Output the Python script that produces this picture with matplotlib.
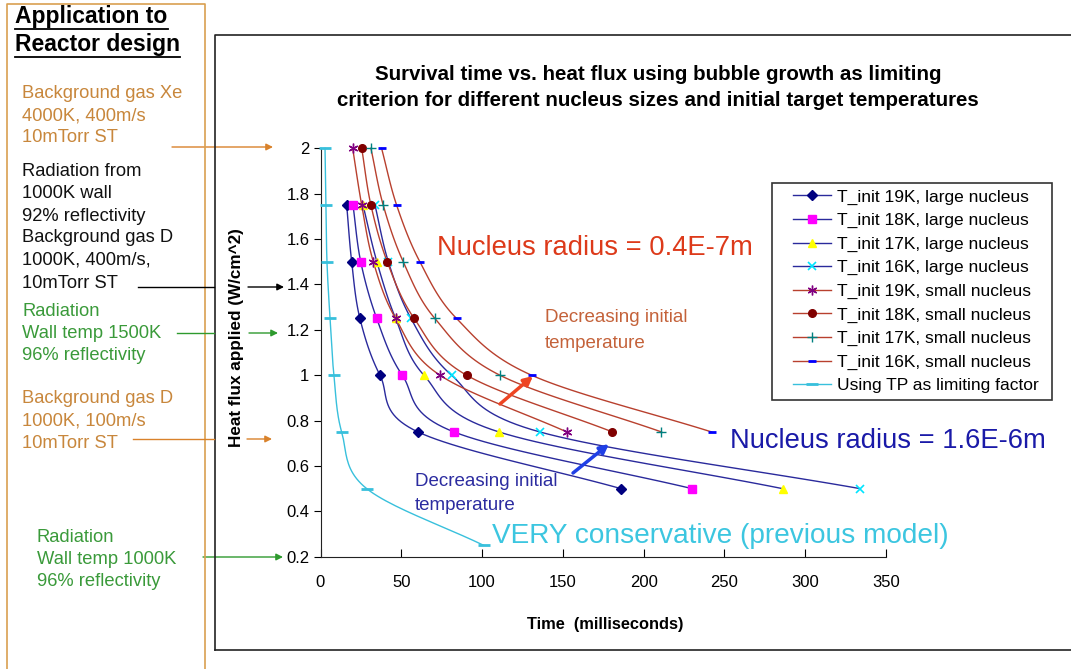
import numpy as np
import matplotlib.pyplot as plt
from matplotlib.lines import Line2D
from matplotlib.patches import FancyArrowPatch, Rectangle

W, H = 1071, 669
plt.rcParams['font.family'] = ['Liberation Sans', 'DejaVu Sans']

# heat flux levels (W/cm^2)
flux_large = [1.75, 1.5, 1.25, 1.0, 0.75, 0.5]
flux_small = [2.0, 1.75, 1.5, 1.25, 1.0, 0.75]
flux_tp = [2.0, 1.75, 1.5, 1.25, 1.0, 0.75, 0.5, 0.25]

# survival times (ms)
t19_large = [16.2, 19.3, 24.4, 36.8, 60.3, 186]
t18_large = [20.1, 24.9, 34.8, 50.6, 82.6, 230]
t17_large = [26.3, 34.9, 46.5, 64, 110.4, 286]
t16_large = [33.7, 42, 56, 81.1, 135.7, 334]
t19_small = [19.9, 25.5, 32.7, 46.5, 73.9, 152.4]
t18_small = [25.5, 31.2, 41.3, 58, 90.4, 180.7]
t17_small = [31.2, 38.8, 51.2, 70.8, 111, 211]
t16_small = [37.8, 47.1, 61.5, 84.2, 130.6, 242]
t_tp = [2.8, 3.4, 4, 5.9, 8.3, 13.1, 28.6, 101]

labels = ['T_init 19K, large nucleus', 'T_init 18K, large nucleus',
          'T_init 17K, large nucleus', 'T_init 16K, large nucleus',
          'T_init 19K, small nucleus', 'T_init 18K, small nucleus',
          'T_init 17K, small nucleus', 'T_init 16K, small nucleus',
          'Using TP as limiting factor']

x_ticks = [0, 50, 100, 150, 200, 250, 300, 350]
y_ticks = [0.2, 0.4, 0.6, 0.8, 1.0, 1.2, 1.4, 1.6, 1.8, 2.0]
y_ticklabels = ['0.2', '0.4', '0.6', '0.8', '1', '1.2', '1.4', '1.6', '1.8', '2']


def f(x, y):
    return (x / W, 1 - y / H)


def smooth(t, q, n=24):
    # bezier smoothing through the points, done in screen-like units
    p = np.column_stack([np.asarray(t) / 350 * 565, np.asarray(q) / 1.8 * 408])
    p = np.vstack([2 * p[0] - p[1], p, 2 * p[-1] - p[-2]])
    s = np.linspace(0, 1, n)[:, None]
    out = []
    for i in range(1, len(p) - 2):
        p0, p1, p2, p3 = p[i - 1], p[i], p[i + 1], p[i + 2]
        b1 = p1 + (p2 - p0) / 6
        b2 = p2 - (p3 - p1) / 6
        seg = (1 - s) ** 3 * p1 + 3 * (1 - s) ** 2 * s * b1 + 3 * (1 - s) * s ** 2 * b2 + s ** 3 * p2
        out.append(seg if i == 1 else seg[1:])
    c = np.vstack(out)
    return c[:, 0] * 350 / 565, c[:, 1] * 1.8 / 408


blue_line = '#2a2a9c'
red_line = '#b8402e'
cyan_line = '#38c0dc'

series = [
    (t19_large, flux_large, 'D', '#000080', 5, 1, blue_line),
    (t18_large, flux_large, 's', '#ff00ff', 6, 1, blue_line),
    (t17_large, flux_large, '^', '#ffff00', 6, 1, blue_line),
    (t16_large, flux_large, 'x', '#00e5ff', 6, 1.2, blue_line),
    (t19_small, flux_small, (6, 2, 0), '#800080', 7, 1, red_line),
    (t18_small, flux_small, 'o', '#800000', 5.5, 1, red_line),
    (t17_small, flux_small, '+', '#008080', 7, 1, red_line),
    (t16_small, flux_small, '_', '#0000ff', 6, 2, red_line),
    (t_tp, flux_tp, '_', cyan_line, 8, 2, cyan_line),
]

fig = plt.figure(figsize=(W / 100, H / 100), dpi=100)
ax = fig.add_axes([320.5 / W, 1 - 556.7 / H, (886 - 320.5) / W, (556.7 - 148.3) / H])

handles = []
for (t, q, mk, mc, ms, mew, lc), lab in zip(series, labels):
    sx, sy = smooth(t, q)
    ax.plot(sx, sy, color=lc, lw=1, clip_on=False, zorder=2)
    ax.plot(t, q, ls='none', marker=mk, ms=ms, mfc=mc, mec=mc, mew=mew,
            clip_on=False, zorder=3)
    handles.append(Line2D([], [], color=lc, lw=1, marker=mk, ms=ms, mfc=mc,
                          mec=mc, mew=mew))

ax.set_xlim(0, 350)
ax.set_ylim(0.2, 2.0)
ax.set_xticks(x_ticks)
ax.set_yticks(y_ticks)
ax.set_yticklabels(y_ticklabels)
for sp in ['top', 'right']:
    ax.spines[sp].set_visible(False)
for sp in ['left', 'bottom']:
    ax.spines[sp].set_color('#222222')
ax.tick_params(axis='x', direction='in', length=6, pad=13, labelsize=12)
ax.tick_params(axis='y', direction='out', length=5, pad=3, labelsize=12)
ax.set_facecolor('none')

# legend, with its frame drawn separately
fig.legend(handles, labels, loc='upper left', bbox_to_anchor=f(788, 184),
           fontsize=12.5, frameon=False, handlelength=2.2, labelspacing=0.48,
           borderpad=0.3, handletextpad=0.3, borderaxespad=0)
fig.add_artist(Rectangle(f(772, 400), 280 / W, 217 / H, transform=fig.transFigure,
                         fill=False, edgecolor='#333333', lw=1.2))

# axis titles and chart title
fig.text(*f(237, 338), 'Heat flux applied (W/cm^2)', rotation=90,
         ha='center', va='center', fontsize=12.3, fontweight='bold')
fig.text(*f(605, 624), 'Time  (milliseconds)', ha='center', va='center',
         fontsize=11.8, fontweight='bold')
fig.text(*f(658, 75), 'Survival time vs. heat flux using bubble growth as limiting',
         ha='center', va='center', fontsize=14.8, fontweight='bold')
fig.text(*f(658, 101), 'criterion for different nucleus sizes and initial target temperatures',
         ha='center', va='center', fontsize=14.8, fontweight='bold')

# in-plot annotations
fig.text(*f(437, 248), 'Nucleus radius = 0.4E-7m', ha='left', va='center',
         fontsize=19.7, color='#dd3a1a')
fig.text(*f(545, 318), 'Decreasing initial', ha='left', va='center',
         fontsize=13.5, color='#c4623a')
fig.text(*f(545, 344), 'temperature', ha='left', va='center',
         fontsize=13.5, color='#c4623a')
fig.text(*f(730, 441), 'Nucleus radius = 1.6E-6m', ha='left', va='center',
         fontsize=19.7, color='#1a1aa8')
fig.text(*f(415, 482), 'Decreasing initial', ha='left', va='center',
         fontsize=13.5, color='#2c2ca0')
fig.text(*f(415, 505), 'temperature', ha='left', va='center',
         fontsize=13.5, color='#2c2ca0')
fig.text(*f(492, 536), 'VERY conservative (previous model)', ha='left',
         va='center', fontsize=20.2, color='#3cc6e0')

# frames
fig.add_artist(Line2D([215 / W, 215 / W, 1], [1 - 650 / H, 1 - 35 / H, 1 - 35 / H],
                      transform=fig.transFigure, color='#222222', lw=1.2))
fig.add_artist(Line2D([215 / W, 1], [1 - 650 / H, 1 - 650 / H],
                      transform=fig.transFigure, color='#222222', lw=1.2))
fig.add_artist(Line2D([7 / W, 7 / W, 205 / W, 205 / W], [0, 1 - 4 / H, 1 - 4 / H, 0],
                      transform=fig.transFigure, color='#d9a050', lw=1.2))

# left panel: reactor design cases
fig.text(*f(15, 17), 'Application to', ha='left', va='center', fontsize=16.5,
         fontweight='bold')
fig.text(*f(15, 45), 'Reactor design', ha='left', va='center', fontsize=16.5,
         fontweight='bold')
for x0, x1, y in [(15, 168, 29), (15, 180, 57)]:
    fig.add_artist(Line2D([x0 / W, x1 / W], [1 - y / H, 1 - y / H],
                          transform=fig.transFigure, color='black', lw=1.3))

orange = '#c8873c'
green = '#3a9a3a'
blocks = [
    (22, [94, 116, 138], ['Background gas Xe', '4000K, 400m/s', '10mTorr ST'], orange),
    (22, [172, 194, 216, 238, 260, 283],
     ['Radiation from', '1000K wall', '92% reflectivity', 'Background gas D',
      '1000K, 400m/s,', '10mTorr ST'], '#111111'),
    (22, [312, 334, 356], ['Radiation', 'Wall temp 1500K', '96% reflectivity'], green),
    (22, [399, 421, 443], ['Background gas D', '1000K, 100m/s', '10mTorr ST'], orange),
    (37, [537, 559, 581], ['Radiation', 'Wall temp 1000K', '96% reflectivity'], green),
]
for x, ys, lines, col in blocks:
    for y, s in zip(ys, lines):
        fig.text(*f(x, y), s, ha='left', va='center', fontsize=13.2, color=col)


def arrow(x0, y0, x1, y1, color, lw=1.0, scale=10):
    fig.add_artist(FancyArrowPatch(f(x0, y0), f(x1, y1), transform=fig.transFigure,
                                   arrowstyle='-|>', mutation_scale=scale,
                                   color=color, lw=lw, shrinkA=0, shrinkB=0))


def segment(x0, x1, y, color):
    fig.add_artist(Line2D([x0 / W, x1 / W], [1 - y / H, 1 - y / H],
                          transform=fig.transFigure, color=color, lw=1.0))


arrow(172, 147, 273, 147, '#d9822b')
segment(138, 214, 287, 'black')
arrow(248, 287, 284, 287, 'black')
segment(177, 214, 333, '#2e9a2e')
arrow(249, 333, 278, 333, '#2e9a2e')
segment(133, 214, 439, '#d9822b')
arrow(247, 439, 272, 439, '#d9822b')
arrow(203, 557, 283, 557, '#2e9a2e')

# trend arrows
arrow(500, 404, 533, 376, '#ee4422', lw=2.5, scale=13)
arrow(573, 473, 609, 444, '#1f3fe6', lw=2.5, scale=13)

fig.savefig('out.png', dpi=100, facecolor='white')
